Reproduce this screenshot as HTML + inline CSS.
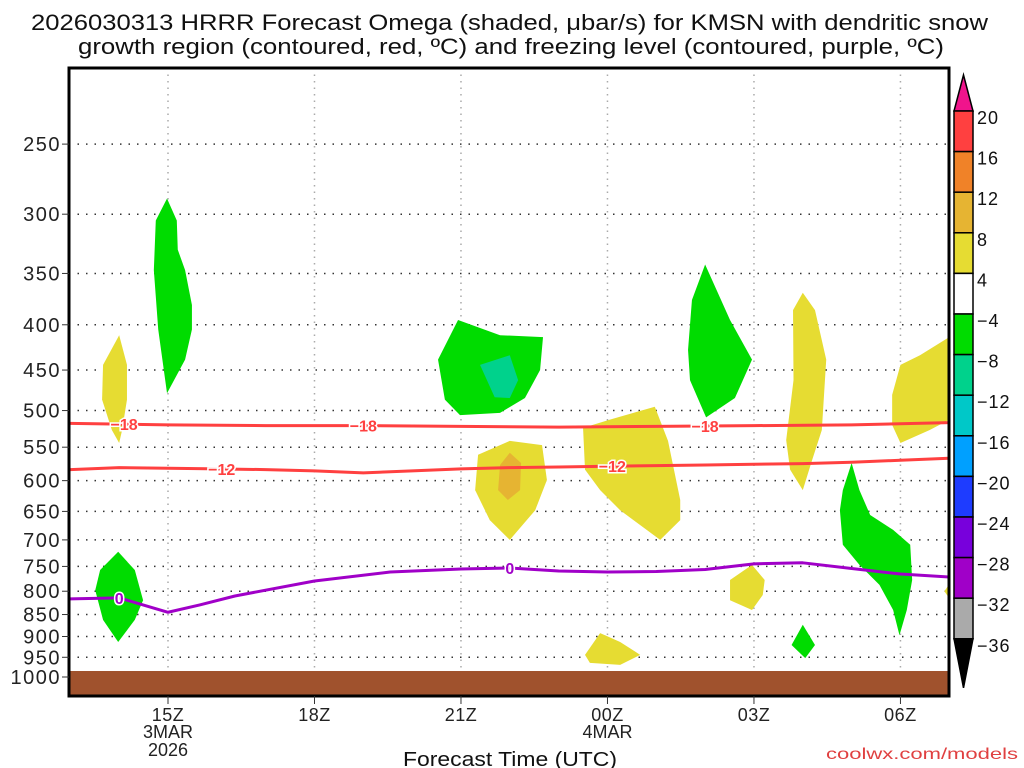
<!DOCTYPE html>
<html><head><meta charset="utf-8"><style>
html,body{margin:0;padding:0;background:#fff;width:1024px;height:768px;overflow:hidden}
svg text{font-family:"Liberation Sans",sans-serif}
</style></head><body>
<svg id="chart" width="1024" height="768" xmlns="http://www.w3.org/2000/svg">
<text x="31" y="30" font-size="22" textLength="957" lengthAdjust="spacingAndGlyphs" fill="#111">2026030313 HRRR Forecast Omega (shaded, μbar/s) for KMSN with dendritic snow</text>
<text x="78" y="54" font-size="22" textLength="866" lengthAdjust="spacingAndGlyphs" fill="#111">growth region (contoured, red, ºC) and freezing level (contoured, purple, ºC)</text>
<g id="grid"></g>
<g id="fills"></g>
<g id="lines"></g>
<rect x="69" y="671" width="880" height="25" fill="#a0522d"/>
<rect x="69" y="68" width="880" height="628" fill="none" stroke="#000" stroke-width="3"/>
<g id="axes"></g>
<text x="403" y="766" font-size="20" textLength="214" lengthAdjust="spacingAndGlyphs" fill="#111">Forecast Time (UTC)</text>
<text x="826" y="759" font-size="16" textLength="192" lengthAdjust="spacingAndGlyphs" fill="#e04040">coolwx.com/models</text>
<g id="cbar"></g>
</svg>
<script>
const pressureTicks=[250,300,350,400,450,500,550,600,650,700,750,800,850,900,950,1000];
const hourTicks=[15,18,21,24,27,30];
const hourLabels=["15Z","18Z","21Z","00Z","03Z","06Z"];
const cbarLevels=[20,16,12,8,4,-4,-8,-12,-16,-20,-24,-28,-32,-36];
const cbarColors=["#ff4040","#f08228","#e6b432","#e6dc32","#ffffff","#00dc00","#00d28c","#00c8c8","#00a0ff","#1e3cff","#7800dc","#a000c8","#aaaaaa"];
// shaded regions: [hour, hPa]
const shapeA=[[14.0,411],[14.16,444],[14.16,486],[14.06,526],[14.0,544],[13.85,526],[13.65,486],[13.67,444]];
const shapeB=[[14.98,288],[15.18,305],[15.2,329],[15.35,347],[15.49,380],[15.49,405],[15.35,438],[14.98,478],[14.8,405],[14.71,347],[14.75,305]];
const shapeC=[[20.94,395],[21.8,411],[22.68,413],[22.62,450],[22.31,484],[21.8,503],[20.98,506],[20.67,486],[20.53,438]];
const shapeC2=[[21.39,444],[22.0,433],[22.17,462],[22.0,484],[21.69,483]];
const shapeD=[[22.0,541],[22.66,547],[22.76,599],[22.52,648],[22.0,700],[21.59,665],[21.29,615],[21.35,561]];
const shapeD2=[[22.0,558],[22.23,573],[22.21,615],[21.96,631],[21.76,615],[21.8,576]];
const shapeE=[[23.5,523],[24.05,512],[24.97,495],[25.24,541],[25.49,631],[25.49,665],[25.08,700],[24.26,648],[23.85,615],[23.54,583]];
const shapeF=[[26.0,342],[26.51,395],[26.96,438],[26.61,484],[26.02,509],[25.69,462],[25.65,427],[25.73,375]];
const shapeG=[[28.0,368],[28.25,385],[28.48,438],[28.39,526],[28.19,569],[28.0,615],[27.74,583],[27.66,540],[27.81,462],[27.8,385]];
const shapeH=[[31.0,413],[30.4,433],[30.0,444],[29.83,480],[29.83,519],[30.0,544],[30.6,526],[31.0,512]];
const shapeI=[[29.0,573],[29.16,615],[29.38,656],[29.85,682],[30.2,709],[30.24,777],[30.13,840],[29.98,897],[29.85,840],[29.57,787],[29.16,747],[28.82,709],[28.76,648],[28.82,615]];
const shapeJ=[[13.98,722],[14.32,757],[14.49,819],[14.32,862],[13.98,913],[13.67,862],[13.51,798],[13.61,757]];
const shapeK=[[26.96,747],[27.22,777],[27.18,808],[26.96,840],[26.51,819],[26.51,777]];
const shapeL=[[28.0,873],[28.25,920],[28.05,952],[27.77,920]];
const shapeM=[[23.85,892],[24.26,913],[24.67,944],[24.26,969],[23.64,964],[23.54,944]];
const shapeN=[[31.0,785],[30.9,800],[31.0,815]];
const yellowShapes=[shapeA,shapeD,shapeE,shapeG,shapeH,shapeK,shapeM,shapeN];
const greenShapes=[shapeB,shapeC,shapeF,shapeI,shapeJ,shapeL];
// contour lines
const lineHours=[13,15,17,19,21,23,25,27,29,31];
const minus18=[517,519,520,520,521,522,521,520,519,516];
const m12Hours=[13,14,15,16,17,18,19,20,21,22,23,24,25,26,27,28,29,30,31];
const minus12=[583,580,581,582,583,585,588,585,582,580,579,578,577,576,575,574,572,569,566];
const frzHours=[13,14,15,15.65,16.37,18,19.55,21,22,23,24,25,26,27,28,29,30,31];
const freezing=[816,814,845,829,810,779,761,755,753,759,761,760,756,745,743,754,765,771];

const NS="http://www.w3.org/2000/svg";
const X0=69,X1=949,Y0=68,Y1=696;
function xs(h){return 168+(h-15)*48.83;}
function ys(p){return 677-384.4*Math.log(1000/p);}
function mk(tag,attrs,parent){const e=document.createElementNS(NS,tag);for(const k in attrs)e.setAttribute(k,attrs[k]);parent.appendChild(e);return e;}
const grid=document.getElementById('grid'),axes=document.getElementById('axes'),fills=document.getElementById('fills'),lines=document.getElementById('lines'),cbar=document.getElementById('cbar');
pressureTicks.forEach(p=>{const y=ys(p);
 const g=mk('line',{x1:X0,x2:X1,y1:y,y2:y,stroke:'#333','stroke-width':1.5,'stroke-dasharray':'1.5 7'},grid);
 
 
 const t=mk('line',{x1:X0-7,x2:X0,y1:y,y2:y,stroke:'#333','stroke-width':1},axes);
 
 
 const l=mk('text',{x:X0-8,y:y+7,'font-size':20,'letter-spacing':1.5,'text-anchor':'end',fill:'#222'},axes);l.textContent=p;
 
 
});
hourTicks.forEach((h,i)=>{const x=xs(h);
 const g=mk('line',{x1:x,x2:x,y1:Y0,y2:Y1,stroke:'#aaa','stroke-width':1.5,'stroke-dasharray':'1.5 5'},grid);
 
 
 const t=mk('line',{x1:x,x2:x,y1:Y1,y2:Y1+8,stroke:'#333','stroke-width':1},axes);
 
 
 const l=mk('text',{x:x,y:721,'font-size':18,'letter-spacing':0.5,'text-anchor':'middle',fill:'#222'},axes);l.textContent=hourLabels[i];
 
 
});
[["3MAR",15,738],["2026",15,756],["4MAR",24,738]].forEach(d=>{const l=mk('text',{x:xs(d[1]),y:d[2],'font-size':18,'text-anchor':'middle',fill:'#222'},axes);l.textContent=d[0];
 
 });
const clip=mk('clipPath',{id:'pc'},document.getElementById('chart'));mk('rect',{x:X0,y:Y0,width:X1-X0,height:Y1-Y0},clip);
fills.setAttribute('clip-path','url(#pc)');lines.setAttribute('clip-path','url(#pc)');
function poly(pts,color,name){const e=mk('polygon',{points:pts.map(q=>xs(q[0])+','+ys(q[1])).join(' '),fill:color},fills);
 
 }
yellowShapes.forEach(s=>poly(s,'#e6dc32','rising-motion-region'));
greenShapes.forEach(s=>poly(s,'#00dc00','sinking-motion-region'));
poly(shapeC2,'#00d28c','sinking-core-region');
poly(shapeD2,'#e6b432','rising-core-region');
function pl(hs,ps,color,name){const e=mk('polyline',{points:hs.map((h,i)=>xs(h)+','+ys(ps[i])).join(' '),fill:'none',stroke:color,'stroke-width':3,'stroke-linejoin':'round'},lines);
 
 }
pl(lineHours,minus18,'#ff4040','minus18-contour');
pl(m12Hours,minus12,'#ff4040','minus12-contour');
pl(frzHours,freezing,'#a000c8','freezing-level-contour');
function interp(hs,ps,h){for(let i=0;i<hs.length-1;i++){if(h>=hs[i]&&h<=hs[i+1]){const f=(h-hs[i])/(hs[i+1]-hs[i]);return ps[i]+f*(ps[i+1]-ps[i]);}}return ps[0];}
function lab(h,hs,ps,txt,color){const x=xs(h),y=ys(interp(hs,ps,h));
 const t=mk('text',{x:x,y:y+6,'font-size':16,'font-weight':'bold','text-anchor':'middle',fill:color,stroke:'#fff','stroke-width':3,'paint-order':'stroke'},lines);t.textContent=txt;
 
 }
lab(14.1,lineHours,minus18,'−18','#ff4040');lab(19.0,lineHours,minus18,'−18','#ff4040');lab(26.0,lineHours,minus18,'−18','#ff4040');
lab(16.1,m12Hours,minus12,'−12','#ff4040');lab(24.1,m12Hours,minus12,'−12','#ff4040');
lab(14.0,frzHours,freezing,'0','#a000c8');lab(22.0,frzHours,freezing,'0','#a000c8');
// colorbar
const CBX=954,CBW=19,CBT=111,CBH=40.6;
const tri1=mk('polygon',{points:`${CBX},${CBT} ${CBX+CBW},${CBT} ${CBX+CBW/2},${CBT-36}`,fill:'#f0148c',stroke:'#000','stroke-width':1.5},cbar);


cbarColors.forEach((c,i)=>{const r=mk('rect',{x:CBX,y:CBT+i*CBH,width:CBW,height:CBH,fill:c,stroke:'#000','stroke-width':1.5},cbar);
 
 });
const bot=CBT+cbarColors.length*CBH;
const tri2=mk('polygon',{points:`${CBX},${bot} ${CBX+CBW},${bot} ${CBX+CBW/2},${bot+49}`,fill:'#000',stroke:'#000','stroke-width':1.5},cbar);


cbarLevels.forEach((v,i)=>{const t=mk('text',{x:CBX+CBW+4,y:CBT+i*CBH+13,'font-size':18,'letter-spacing':1,fill:'#111'},cbar);t.textContent=(v<0?'−':'')+Math.abs(v);
 
 });
</script>
</body></html>
